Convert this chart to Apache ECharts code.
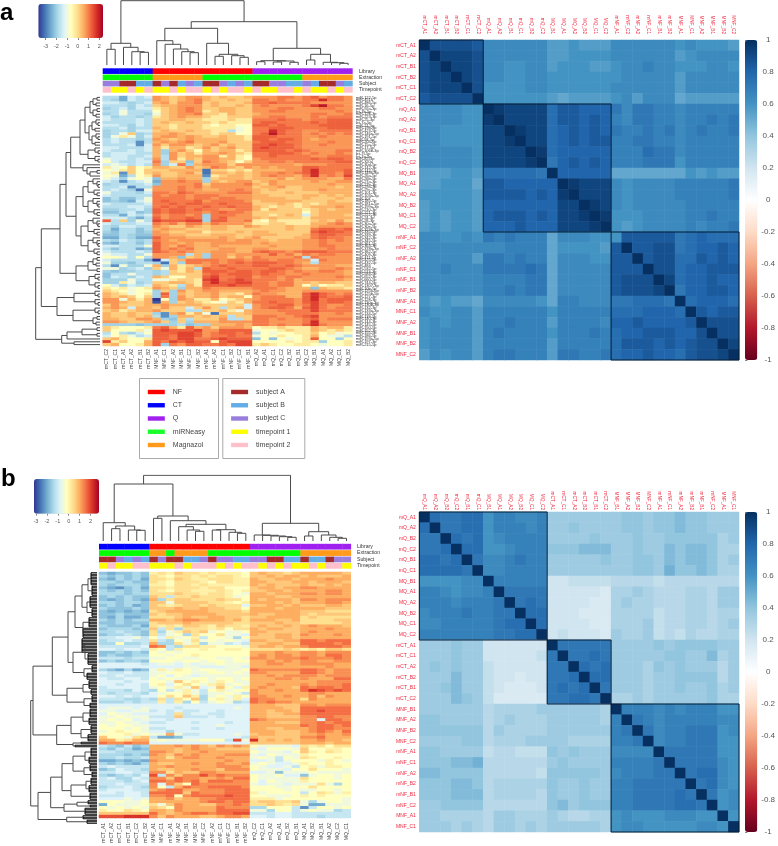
<!DOCTYPE html>
<html><head><meta charset="utf-8">
<style>html,body{margin:0;padding:0;background:#fff}#c{width:778px;height:846px;filter:blur(0.45px)}</style>
<script src="https://cdn.jsdelivr.net/npm/echarts@6/dist/echarts.min.js"></script>
</head><body><div id="c"></div>
<script>
// ---------- Data ----------
// Heat cells: each letter a..u is one step along the palette (a = lowest, u = highest of the colour key).
const heatColsA=['mCT_C2','mCT_C1','mCT_A1','mCT_A2','mCT_B1','mCT_B2','MNF_A1','MNF_C1','MNF_A2','MNF_B1','MNF_C2','MNF_B2','mNF_A1','mNF_A2','mNF_C1','mNF_B2','mNF_C2','mNF_B1','mQ_A2','mQ_A1','mQ_C1','mQ_C2','mQ_B2','mQ_B1','MQ_C2','MQ_B1','MQ_A1','MQ_A2','MQ_C1','MQ_B2'];
const heatColsB=['mCT_A1','mCT_A2','mCT_C1','mCT_B1','mCT_C2','mCT_B2','MNF_A1','MNF_C1','mNF_A1','MNF_A2','MNF_B1','MNF_B2','MNF_C2','mNF_A2','mNF_C1','mNF_C2','mNF_B1','mNF_B2','mQ_C2','mQ_C1','mQ_A2','mQ_A1','mQ_B2','mQ_B1','MQ_A1','MQ_B2','MQ_B1','MQ_A2','MQ_C2','MQ_C1'];
const mirNames=['miR-122-5p','miR-451a','miR-486-5p','miR-16-5p','miR-92a-3p','let-7b-5p','miR-126-3p','miR-223-3p','miR-25-3p','let-7a-5p','miR-21-5p','miR-19b-3p','miR-423-5p','miR-146a-5p','miR-191-5p','miR-93-5p','miR-20a-5p','miR-15a-5p','miR-17-5p','miR-106b-3p','let-7f-5p','let-7g-5p','miR-22-3p','miR-320a','miR-30d-5p','miR-142-3p','miR-142-5p','miR-148a-3p','miR-26a-5p','miR-26b-5p','miR-27a-3p','miR-27b-3p','miR-29a-3p','miR-29c-3p','miR-101-3p','miR-103a-3p','miR-107','miR-185-5p','miR-181a-5p','miR-199a-3p','miR-210-3p','miR-221-3p','miR-222-3p','miR-24-3p','miR-28-3p','miR-30a-5p','miR-30e-5p','miR-323b-3p','miR-335-5p','miR-339-3p','miR-342-3p','miR-345-5p','miR-361-5p','miR-363-3p','miR-378a-3p','miR-382-5p','miR-409-3p','miR-411-5p','miR-425-5p','miR-432-5p','miR-484','miR-532-5p','miR-574-3p','miR-584-5p','miR-652-3p','miR-660-5p','miR-744-5p','miR-1307-3p','miR-10b-5p','miR-125a-5p','miR-125b-5p','miR-127-3p','miR-128-3p','miR-130a-3p','miR-130b-3p','miR-132-3p','miR-133a-3p','miR-134-5p','miR-139-5p','miR-140-3p','miR-144-3p','miR-145-5p','miR-150-5p','miR-152-3p','miR-155-5p','miR-186-5p','miR-193a-5p','miR-197-3p','miR-215-5p'];
const heatRowsA=[
"hheihi onmnoo nmnmmn oooppo pqoppo","hgeihh onmnop nmmnmm ppopoo ppsppo","iihghi nomoop mnmmmn ppqppp pooooo","hhhgih mnnooo mnmmnm opoooo prtppo",
"ghigii lmnopo mmnnmm oooppo ooppoo","hhjhhh kmnopo lmnnmm ooppoo oooopo","ghjhhg jmnoop mmlnmm nooooo oppoop","ighhgh lmnonn mllmmm ooppoo opoppp",
"ihhhih mmnnmm lllmll pppqpp oppqqq","hhhhih mnmmnm mlmlll pqqppp pqpqqq","iihgih mmlmmm lkllkk qqpqpp ppqqqq","hhighh nmlmmm lllljk ppqqqp pppqqq",
"ghhgii mnmmnm mllhjk ppsqpp oopppp","ghjmgh nnonmm mlmmkk pqtqpp opopop","gjljgi noonon mmnmml qqqppp oopooo","hihhgh onmnon nnnmml qqpqqp onoooo",
"hihhdh nonopn nnommm pqqqpp ooopoo","hhhidi omoonm nomnmm qqrqqp oopooo","iihhhi nlnnlm omnomm qrqqqp oooooo","ihhihi ngnomk nmnnlm qqqqpq pooopp",
"hiiihh ngomnl nnonml ppqqqp opoopo","hiihhi nhomnn oolnlk ppqppp pooppp","jiihih oholnm oonnlk oppppp pqpqqp","kihhii pgmmfm ponmkm ooppop ppppqq",
"ijihih ogipgn ooomoo ooooon oooppp","ljkmkl nnmmom nponmo nonooo qqpppp","kjlmkm mmnnnn cmmlml nnnnoo qspppq","jldmkm nmmnom cnnmnm noopop qsppoq",
"kjehkl ommnnn dlmnnm nopoon psopor","jigjkj fnnonn gmnnnm nnnomn ooonnp","ihdhij eoopoo gnmnoo mnonnn nonnoo","ghhhhi foooop moooop nmonnn nnnonn",
"hhidhh ooopop nooooo mnnomm nnnnmn","hihgcj ooopoo nnoopo nmnmmm nnonnn","jhhhgi ppoqpo oooppp nmmmnm mmnnnn","ihhhhh poppop ppoooo nnmmmm nnmnmn",
"fhffhj ppppop poppoo nnnnmm nmmmnm","fgfeij pqpppq oppppo mnnnnn mmmnmm","ihhhhi ppqpqq ppqppp mmmnml mlmnnn","hhhiih pqpqpp qppqpp nmlmml mnnnon",
"gghhig qpqqpq ppoopp nlnmmm lmnmnn","ffhifg qpqqpp opqppo mmmmmm kmnnnn","hheihi poppop gpppoo mmlmnm imnnnm","iiigeh qoppqp gpqooo nmnmmm lnnnnn",
"qhmgjh rqqqrr gqqoop lkmlll lmnmom","ihhhii popnpp npooon llmmll lnnopo","hgiihh onmmon mnnmmo nmmmnm mnoooo","hehhfh nonnmm mnnmmm mmmmnm mpqqpq",
"gfhhfg onmmnn lmmmnm nnmmmm mqrqqp","ffhgff oonnmm mnnnmm nnnmmm npqqpp","eehgee qooonn nnonmn ommmmn npqppo","hgihgh ponooo ooonoo nnmnnn oopopo",
"fehhfh qoonon nooooo nonnnn oopooo","iihhhj qonpon nonnnn nnonnn ooppoo","hfhhef qopopn nnoonn oonnnn ooopoo","ihhhih qpopon nooonn pqppop qqqppp",
"jiihhj oooohn goonoo ooqopn poppoo","kkjhkh oonfmn goomon poooop hpoooo","ihhhhe aimnpp ppoppo ppoppo oipooo","jggfhh gcmgpp opopqp qqqppo nhoooo",
"hdjggj ngnlmn opqppp qqppqp oooonn","jjghig mjnlnh qppqpp ppqqpo nnoopo","gfgghh ghmlnm qqqpqq pqqpop ooppon","fhhjhh ghmmmm pqpqqq pqppoo poooon",
"fihgih nmkkmm qrppqq oppopp oooopo","gggjhh jjlmml rspqrq pppopn ooooon","ggljgh mmnnml qsqqrr ppoppn nmnnmm","kigihi nmlhnl qqqrqq ppoppn kmkllm",
"lkljkl onmgnn pooooo ppponn nfnmml","mlkjkk gmgomn oonnnn opoonn oooooo","nmljkl gqgnmn nommln poonnn qsqpop","nmnmkm gpgomn nomnnk opppnn qsqppq",
"oojnln akgonl lnklmn oppppo qspqqq","oonmmn bngmnm lkjmln ppqppo qrpqqp","mommmn nonnnn mmmmmi oppqqo prpoop","noninn mommim omhmni opqqpn qrpopp",
"mnlmnn ommmhh mmnljn oooppp prpppp","nmmnmm gdnoln jcmmmn oooopp ppoopo","nmmnmn hdgnnm nmnhmm pppoop qroooo","nnmmoo ngfmhm mmohhm ppopoo pqoppp",
"oonmmn omgmgn nnoooo ppoooo psoooo","ggggfg ggghfg gnnnon ppopoo qspooo","mlkkkl pqnlqn omooon kllmll lnmnnl","mkkklj qrqqqr ooqqqq jkklml lnmlml",
"hkhgik qqqrrq opqqpq hkjkkl lmkljk","ikljhi qqprrq oppqpp jkklkk lnkjjh","mnlkkl qqprrp pqrqqq fkfkjk lqkkgk","rlmkkn qprqrq qkqrrr kkkklk llgkkl",
"mnkkln qgpoqq ppqprr lmlkkl lkjkkl"];
const heatRowsB=[
"feffgf lmlnmm lmlllk nonnmn ooooon","gfgfgf mlkmml mlmmlk nnonoo nonnno","fegfge mmlnml lmmmll onnoon ooopoo","ggfgff mlkmmm lkmmll oonnno onooon",
"gfgggf llkmml mlllll ononnn onnono","fedfge mmlmmm lmmkkk noonoo ppoooo","gfgfgf mlkmml llmlkl nnoono oooppo","gggfgg mmmnmm lmmlkj oonooo ppoppo",
"fgfgff nmhmmn mmmljk ooonno oooooo","fefgfe ogmnnm mmnmmk onooon ppoppp","ggfggf nnjnnn nmmlkl ooonon oooppo","fgfgef nmlmnn mnmmmi nnoono nnnoon",
"gfffgf nnnonn onnmmk ooonoo ooonnn","fefefe mnoooo onnnnm oooooo nnnmmm","ffgfff nmnnoo oonnnn onnooo nmnnnn","fegeef mmmnon noonnm nnoooo mnmmmm",
"gfgfgg oonopp ooonom ooonno mmmmnn","ffgfff mnnnon nnnnmm nnnonn mmmmmn","gfffge mlmlnn mlnmml nonnon opooon","fgggfg nhmgmm mlmkmm onoonn ooopoo",
"gghggf mgjlnm njkjjk oonnnn opoooo","fgghgf mhjkgm kkmjji onnoon pooopo","hhiijh kiljkl hkkjgk nnnoon oooooo","ghhihh mhgkjm jkjkji oonnoo qqpqqq",
"ggkggh oggmjl gjjhih nnoonn qqqqpq","hhhhhi qphgmm llkkkj noonoo pqqqqp","iihiih lkhlkk lkkllk mmmmnm lmlnnm","ffgfgf kjkjkk kkkkkk ooopoo ppoppp",
"fgffgg kkjkkl kkkkkk opoppo ppoqqp","hhhghh jjkkjj kkjjkj ppoppp qpppqp","fgfggf kkkjkk jkkjkk oopopo ppoopp","iiiiih ijjiji jjkjjj ooppoo ppppoo",
"iiiiii iiiijj iiijji oooooo ooopoo","gfegef jljlkj kkjjjk qppppp qqpopp","ihhihh jjkkkj jkkjkj ppoooo qqpopp","hhihhh jkikji jjjjjj oopopp ppoppp",
"ihhiih kjkjjk kjkkjk oooppo poooqq","iiihii kkjnkl kjlkjj oooooo oopppp","iihiih klikmk jlmjkj oopooo popppq","hiiiih jkjljn ijnkil opooon qpqqpq",
"hhhgih gkhjlj hkljkk poopoo qsrqrq","hghhhg ijkklj hjjkjh pooooo oppooo","iihihi ikmknl gjkjlk ppoopo opnpoo","hhhggh gmhmkn gkljli qppooo mpoooo",
"ggghgh hlhlgk hjkjgh qpqppo oooooo","iiiiii iiiiii iiiiii ooonnn ppoppp","ijjjij iiihii iiiiji oooonn qqqqqq","jjiijj hihihh iihiii oonoon qqrqqq",
"ikjjii iihmhi ihhiii oonnoo qqqqqq","jjkjjj hhhnhh hihiii oonnnn ppqqpp","jkjkij iihiii iiiiii qpoooo ppiqqp","jjkjji hhiiih iiihii ooonnn ppqpqq",
"kjkkjj iiiiii iijiii oooooo qpqqpq","kkkjkj hhiiih iihiii oonnoo opqqpp","jklkkj iigiii iiiiii ooonnn opqpoq","kkkljk jjojhh iiiiji noonnn oopoop",
"nkkjmn heefii iiiiih onnnnn ppqooo","oolmoo jkjjjj kkkhrj snonon oopoon","qppqpp iiiiii iiiiii nnnnnn ooonoo","hgfhfg ooopop onpopo kjjjji mlmkmm",
"gfhgef ooonop oonnnn jikkkj nkkllk","hhgggg pponoo pooooo kjjjik nlkmlk","gggfgf ponpop oooppp jikjjj lkkkkk","gghggh oomopp oopooo jkjhkj mlkklk",
"eefefe pooooo ooopoo iijhjk kkjlkj","gfgfeg onnoop oopoop jkjiij lkklkk","hihhhh oopooo oopppo kjiijh kljllk","fgihhg onnoop oonppp kjjjik kmkkkj",
"hhiihh ppmonn ppoooo iijfjj jkjjjj","gfghgi rhpnpp rpqppp kjjkii fjkkjk","higgih ppnqpp oopoqq kjjjjj mkkkjk","hhhghi qqpqpq oqqqpp kikjjj lkkkkk",
"hhihhh pipnkq pppppp jijjij jjmjgk","ghhihg pkhoqp pqqqqp kkkjjk kmkkkk","hiiihh opqqoo pppqqq kkkkjk jjkkjk","iihiih qqqqnq pppqqq ljkkkk hkmljl",
"hhhiih ppqkpq qqqrqq kkjjjk lklkkk","iiijij oopnoo ppqqqq llljkk kkkkkj","kkkjjk oooooo pqqpqq mnnmmn jgjkkj","ekjjjk mjnpoo nnppqp mmnmlm jeejjj",
"kjkjkj nmkpoo ooqppp ggkkkh dhkkjk","lkkmlk oonpoo ooqqqq jjgkkh jkjjgh","nnnnnn qonopq qpqqrr hhhiih hhhhhh","rrrsss pnpooo nnoppo iihiih hhghhh"];
// Palette position of each letter, as calibrated against the colour key of each panel
const stepsA=[0,1,2,3,4,5,5.7,6.4,7.5,9,10,11.3,12.8,13.8,14.7,15.6,16.4,17.3,18.2,19,20];
const stepsB=[0,1,2,3,4,5,6,7,8,9,10,11,12,13,14,15,16,17,18,19,20];
// Annotation tracks, one code per column
const trackNames=['Library','Extraction','Subject','Timepoint'];
const tracksA=['CCCCCCNNNNNNNNNNNNQQQQQQQQQQQQ','GGGGGGOOOOOOGGGGGGGGGGGGOOOOOO','ccAABBAcABcBAAcBcBAAccBBcBAAcB','pyypypyypyppypyppypyyppypyypyp'];
const tracksB=['CCCCCCNNNNNNNNNNNNQQQQQQQQQQQQ','GGGGGGOOGOOOOGGGGGGGGGGGOOOOOO','AAcBcBAcAABBcAccBBccAABBABBAcc','ypyyppyyypypppypyppypypyypyppy'];
// Correlation matrices (lower triangle). a=0.00, b=0.04 ... z=1.00
const corrNamesA=['mCT_A1','mCT_A2','mCT_B1','mCT_B2','mCT_C1','mCT_C2','mQ_A1','mQ_A2','mQ_B1','mQ_C1','mQ_B2','mQ_C2','MQ_B1','MQ_A1','MQ_A2','MQ_B2','MQ_C1','MQ_C2','mNF_A1','mNF_C2','mNF_A2','mNF_C1','mNF_B1','mNF_B2','MNF_A1','MNF_C1','MNF_A2','MNF_B1','MNF_B2','MNF_C2'];
const corrLowerA=["z","wz","wxz","wxxz","wxxxz","vwwwwz","qqqqppz","qqqqppyz","qqppppxxz","qqppppxxyz","qqqqqpxxxxz","qqqqqpxxxxyz","oooppottttts"+"z","oopppnvvuuuuuz","pppppovvvvuvuyz","oppppouuuuuuuxxz","opoppouvvvuvuxxyz","opoppouuuvuuuxxxyz","qqppqpsrsrrrnqqqpppz","qqqqqqqqrrrrnppppovz","qqqqqossrsrrnqqqppvvz","qqrqqqssssts"+"nqqqqqvvvz","qqqqqqrrrrssnqqqqqvwwwz","qqqqqqrrsrssnqqqqqvwwwxz","popoonqqqqqpnrrqqqssttts"+"z","qppqqorrrrrrprrrrrtttuuutz","pqpqqorrsrrrorrrrquuvuuuuvz","pqqqqorsrrrrprrrsrtuuvvvuuwz","pqqqqorrrrrrorrrrrtvvvuvuvwwz","oqpqqorssrrrossrrstuuvuutvwwxz"];
const corrNamesB=['mQ_A1','mQ_A2','mQ_B2','mQ_C2','mQ_B1','mQ_C1','MQ_B1','MQ_A1','MQ_A2','MQ_B2','MQ_C1','MQ_C2','mCT_A1','mCT_C1','mCT_A2','mCT_B2','mCT_B1','mCT_C2','MNF_B1','MNF_A2','MNF_B2','MNF_C2','mNF_A1','mNF_C1','mNF_A2','mNF_B2','mNF_B1','mNF_C2','MNF_A1','MNF_C1'];
const corrLowerB=["z","tz","ssz","sstz","ttstz","ttttsz","ppppqqz","rrqpqqrz","rrrqrrrsz","qrrrsrrssz","qqrrrrrsttz","rrrrrrrssttz","jjjkjjffffffz","jjjkjjfffffgsz","jkjkjjgfffffssz","jjjljjgffeffsstz","jjkljjgfeeefststz","jjjlkjgeeeeessttsz","jjjjjjhiiiijjjjjjiz","kkjjjjhijiiijjjjjirz","kkkkkkhjiiiijjjjjjrsz","jjjjkkhiiijjjjiiiirrsz","kkjjjjghhgggkjkjjjqqqqz","kkkllmhhhhhhjkjjjjrrrrsz","llkkkkhhhhhgkkkkkjqrrrssz","kkkllkhiiiiikjjkjjrrsssssz","kkklllhiiiihkjjkjjrrssssts"+"z","jjkkkkhhhhhhkljkkkrrsssstts"+"z","jjiiiihjjiiijihhiipqpppqqqppz","jjjijihjjijijjjjjipqqpppppqqpz"];
const clustersA=[[0,5],[6,17],[18,29]];
const clustersB=[[0,11],[12,17],[18,29]];
// Dendrograms: a node is [merge height, child, child]; 0 is a single leaf; [height, count] is a tight clump of leaves.
const s2=[3,0,0],s3=[5,0,[2,0,0]],s4=[7,[3,0,0],[4,0,0]],s5=[8,[4,0,[2,0,0]],[5,0,0]],s7=[12,[7,0,[3,0,[2,0,0]]],[6,0,[3,0,0]]];
const topTreeA=[64.3,[21.7,[15.7,0,0],[17.7,0,[13.3,0,[12.7,0,0]]]],[43.3,[36.7,[24.3,0,[20.7,0,[16,0,[13.3,0,[12.3,0,0]]]]],[21.7,0,[10.7,[8.7,0,0],[9.3,0,[7.7,0,0]]]]],[16.7,[4.3,[3.3,0,0],[4,[3,0,0],[2.7,0,0]]],[10.7,[5,0,0],[2.7,0,[2.3,0,[1.7,0,0]]]]]]];
const leftTreeA=[64.3,[58.7,[40,[34,[29.3,[20,[15,[10,s4,s4],[11,s5,s5]],[12,s3,s3]],[17,0,[13,0,[10,s2,0]]]],[24,[17,s7,s7],[19,s7,s7]]],[24,[12,s4,s2],[11,s3,s3]]],[43,[26,s3,s3],[27,s3,s4]]],[38.3,[33,[18,s2,s2],0],[26,0,0]]];
const topTreeB=[65.7,[57,[18.3,0,[15,[12.3,0,0],[11,0,[10.7,0,0]]]],[25,[22.7,0,0],[20.3,0,[16.7,[14.3,0,[11,0,[9.7,0,0]]],[11.3,[11,0,0],[8.7,0,[7.7,0,0]]]]]]],[17.7,[6,0,[5.7,0,[5,0,[4.3,0,[3.7,0,0]]]]],[9.3,[5,0,0],[6,0,[3.7,0,[2.7,0,0]]]]]];
const leftTreeB=[66.3,[64,[44.7,[29,[22,[15,[9,[6,9],[5,7]],[10,[7,8],[5,6]]],[14,[8,7],[14,7]]],[24,[12,[15,10],[9,8]],[13,[5,5],[10,5]]]],[30,[14,[8,6],[6,4]],[13,[5,5],[7,4]]]],[40.3,[26,[14,[7,6],[8,5]],[16,[6,6],[9,5]]],[24,[16,2],[22,2]]]],[59,[46.3,[35,[24,[12,[6,6],[8,5]],[13,[7,5],[5,4]]],[26,[11,[6,5],[8,5]],[7,5]]],[33,[20,[9,3],[7,2]],[12,5]]],[30.3,[14,3],[10,3]]]];
// Colour keys
const heatPalette=['#313695','#4575b4','#74add1','#abd9e9','#e0f3f8','#ffffbf','#fee090','#fdae61','#f46d43','#d73027','#a50026'];
const corrPalette=['#67001f','#b2182b','#d6604d','#f4a582','#fddbc7','#ffffff','#d1e5f0','#92c5de','#4393c3','#2166ac','#053061'];
const heatTicks=[-3,-2,-1,0,1,2];
const corrTicks=[-1,-0.8,-0.6,-0.4,-0.2,0,0.2,0.4,0.6,0.8,1];
const rangeA=[-3.69,2.35], rangeB=[-3.18,2.78];
const codeColor={C:'#0000ff',N:'#ff0000',Q:'#a020f0',G:'#00ff00',O:'#ff9a1a',A:'#a52a2a',B:'#63ace5',c:'#9a7ede',y:'#ffff00',p:'#ffc0cb'};
const legendLeft=[['NF','#ff0000'],['CT','#0000ff'],['Q','#a020f0'],['miRNeasy','#19ff2a'],['Magnazol','#ff9a1a']];
const legendRight=[['subject A','#a52a2a'],['subject B','#63ace5'],['subject C','#9a7ede'],['timepoint 1','#ffff00'],['timepoint 2','#ffc0cb']];

// ---------- Building the option ----------
const grid=[],xAxis=[],yAxis=[],series=[],visualMap=[];
function addGrid(l,t,w,h,xa,ya){const i=grid.length;grid.push({left:l,top:t,width:w,height:h,containLabel:false});
 xAxis.push(Object.assign({gridIndex:i},xa));yAxis.push(Object.assign({gridIndex:i},ya));return i;}
function layout(node,segs,st){
 if(node===0){return {p:st.n++ +0.5,h:0};}
 if(node.length===2){const first=st.n+0.5;for(let k=0;k<node[1];k++){const p=st.n++ +0.5;segs.push({pts:[[0,p],[node[0],p]],dark:true});}
  const last=st.n-0.5;segs.push({pts:[[node[0],first],[node[0],last]],dark:true});return {p:(first+last)/2,h:node[0]};}
 const A=layout(node[1],segs,st),B=layout(node[2],segs,st);
 segs.push({pts:[[A.h,A.p],[node[0],A.p],[node[0],B.p],[B.h,B.p]]});
 return {p:(A.p+B.p)/2,h:node[0]};
}
function addDend(g,tree,horizontalLeaves){
 const segs=[];layout(tree,segs,{n:0});
 series.push({type:'lines',coordinateSystem:'cartesian2d',xAxisIndex:g,yAxisIndex:g,polyline:true,silent:true,animation:false,
  lineStyle:{color:'#4a4a4a',width:1,opacity:1},
  data:segs.map(s=>({coords:horizontalLeaves?s.pts:s.pts.map(q=>[q[1],q[0]]),lineStyle:s.dark?{color:'#000',width:1,opacity:1}:undefined}))});
}
function countLeaves(t){if(t===0)return 1;if(t.length===2)return t[1];return countLeaves(t[1])+countLeaves(t[2]);}
function addKeyBar(l,t,w,h,range,palette,series_i,horizontal,ticks){
 visualMap.push({type:'continuous',seriesIndex:series_i,min:range[0],max:range[1],dimension:2,orient:horizontal?'horizontal':'vertical',
  left:l,top:t,padding:0,itemWidth:horizontal?h:w,itemHeight:horizontal?w:h,calculable:false,hoverLink:false,realtime:false,showLabel:false,text:[null,null],inRange:{color:palette}});
 const base={type:'value',min:range[0],max:range[1],axisLine:{show:false},splitLine:{show:false},
   axisTick:{show:true,length:horizontal?2:2.5,lineStyle:{color:'#555',width:.7},customValues:ticks},
   axisLabel:{show:true,color:'#555',fontSize:horizontal?5.5:8,customValues:ticks,hideOverlap:false,showMinLabel:true,showMaxLabel:true,
     margin:horizontal?5:14,align:'center',formatter:v=>String(v)}};
 if(horizontal)addGrid(l,t,w,h,Object.assign({position:'bottom'},base),{type:'value',show:false,min:0,max:1});
 else addGrid(l,t,w,h,{type:'value',show:false,min:0,max:1},Object.assign({position:'right'},base));
}
function addHeat(cfg){
 const rows=cfg.rows.map(r=>r.replace(/ /g,''));
 const lo=cfg.range[0],hi=cfg.range[1],data=[];
 rows.forEach((r,y)=>{for(let x=0;x<r.length;x++)data.push([x,y,lo+cfg.steps[r.charCodeAt(x)-97]/20*(hi-lo)]);});
 const g=addGrid(cfg.l,cfg.t,cfg.w,cfg.h,
  {type:'category',data:cfg.cols,position:'bottom',axisLine:{show:false},axisTick:{show:false},splitLine:{show:false},
   axisLabel:{interval:0,rotate:90,fontSize:5,color:'#444',margin:cfg.colMargin,hideOverlap:false}},
  cfg.rowNames?{type:'category',inverse:true,position:'right',data:cfg.rowNames,axisLine:{show:false},axisTick:{show:false},splitLine:{show:false},
    axisLabel:{interval:0,fontSize:4,color:'#333',margin:3.4,hideOverlap:false}}
   :{type:'category',inverse:true,show:false,data:rows.map((_,i)=>i)});
 series.push({type:'heatmap',xAxisIndex:g,yAxisIndex:g,data:data,silent:true,progressive:0,animation:false,emphasis:{disabled:true}});
 return series.length-1;
}
function addTracks(l,t,w,h,cols,tracks,labelMargin){
 const g=addGrid(l,t,w,h,{type:'category',show:false,data:cols},
  {type:'category',inverse:true,position:'right',data:trackNames,axisLine:{show:false},axisTick:{show:false},splitLine:{show:false},
   axisLabel:{interval:0,fontSize:5.2,color:'#333',margin:labelMargin}});
 const data=[];tracks.forEach((tr,y)=>{for(let x=0;x<tr.length;x++)data.push([x,y,tr[x]]);});
 series.push({type:'custom',xAxisIndex:g,yAxisIndex:g,silent:true,animation:false,data:data,encode:{x:0,y:1},
  renderItem:(p,api)=>{const c=api.coord([api.value(0),api.value(1)]),s=api.size([1,1]);
   return {type:'rect',shape:{x:c[0]-s[0]/2,y:c[1]-s[1]/2+0.3,width:s[0]+0.4,height:s[1]-0.6},style:{fill:codeColor[data[p.dataIndex][2]]}};}});
}
function addCorr(cfg){
 const n=cfg.names.length,data=[];
 for(let i=0;i<n;i++)for(let j=0;j<=i;j++){const v=(cfg.lower[i].charCodeAt(j)-97)*0.04;data.push([j,i,v]);if(i!==j)data.push([i,j,v]);}
 const g=addGrid(cfg.l,cfg.t,cfg.w,cfg.h,
  {type:'category',data:cfg.names,position:'top',axisLine:{show:false},axisTick:{show:false},splitLine:{show:false},
   axisLabel:{interval:0,rotate:90,fontSize:4.7,color:'#f0283f',margin:cfg.topMargin,hideOverlap:false}},
  {type:'category',data:cfg.names,inverse:true,position:'left',axisLine:{show:false},axisTick:{show:false},splitLine:{show:false},
   axisLabel:{interval:0,fontSize:5,color:'#f0283f',margin:3.4,hideOverlap:false}});
 series.push({type:'heatmap',xAxisIndex:g,yAxisIndex:g,data:data,silent:true,progressive:0,animation:false,emphasis:{disabled:true}});
 const si=series.length-1;
 series.push({type:'custom',xAxisIndex:g,yAxisIndex:g,silent:true,animation:false,z:5,data:cfg.clusters,encode:{x:0,y:0},
  renderItem:(p,api)=>{const a=api.coord([api.value(0),api.value(0)]),b=api.coord([api.value(1),api.value(1)]),s=api.size([1,1]);
   return {type:'rect',shape:{x:a[0]-s[0]/2,y:a[1]-s[1]/2,width:b[0]-a[0]+s[0],height:b[1]-a[1]+s[1]},style:{fill:'none',stroke:'#071c33',lineWidth:1}};}});
 return si;
}
function panel(p){
 const hs=addHeat({rows:p.rows,cols:p.cols,rowNames:p.rowNames,range:p.range,steps:p.steps,l:p.hx,t:p.hy,w:p.hw,h:p.hh,colMargin:p.colMargin});
 addKeyBar(p.kx,p.ky,p.kw,p.kh,p.range,heatPalette,hs,true,heatTicks);
 const gt=addGrid(p.hx,p.dy,p.hw,p.dh,{type:'value',show:false,min:0,max:30},{type:'value',show:false,min:0,max:p.dh});
 addDend(gt,p.topTree,false);
 addTracks(p.hx,p.ty,p.hw,p.th,p.cols,p.tracks,p.trackMargin);
 const n=countLeaves(p.leftTree);
 const gl=addGrid(p.lx,p.hy,p.lw,p.hh,{type:'value',show:false,inverse:true,min:0,max:p.lw},{type:'value',show:false,inverse:true,min:0,max:n});
 addDend(gl,p.leftTree,true);
 const cs=addCorr({names:p.corrNames,lower:p.corrLower,clusters:p.clusters,l:419.3,t:p.cy,w:319.7,h:320,topMargin:p.topMargin});
 addKeyBar(745,p.cy,12.3,320,[-1,1],corrPalette,cs,false,corrTicks);
}
panel({rows:heatRowsA,cols:heatColsA,rowNames:mirNames,range:rangeA,steps:stepsA,hx:102.7,hy:96,hw:249.6,hh:250,colMargin:3,
 kx:38.3,ky:4,kw:64.7,kh:34,dy:0,dh:65,topTree:topTreeA,ty:68,th:25,tracks:tracksA,trackMargin:6.7,lx:30,lw:70,leftTree:leftTreeA,
 corrNames:corrNamesA,corrLower:corrLowerA,clusters:clustersA,cy:40,topMargin:6});
panel({rows:heatRowsB,cols:heatColsB,range:rangeB,steps:stepsB,hx:99,hy:572,hw:251.7,hh:252,colMargin:5,
 kx:34,ky:479,kw:65,kh:34.7,dy:475,dh:66,topTree:topTreeB,ty:543.5,th:25.5,tracks:tracksB,trackMargin:6.3,lx:27,lw:70,leftTree:leftTreeB,
 corrNames:corrNamesB,corrLower:corrLowerB,clusters:clustersB,cy:512,topMargin:2});

// Legend boxes and panel letters
const graphic=[];
function legendBox(x,w,rows){
 graphic.push({type:'rect',shape:{x:x,y:378.5,width:w,height:80},style:{fill:'none',stroke:'#aaa',lineWidth:1}});
 rows.forEach((r,i)=>{const y=392+i*13.25;
  graphic.push({type:'rect',shape:{x:x+8.3,y:y-2.2,width:17,height:4.4},style:{fill:r[1]}});
  graphic.push({type:'text',x:x+33.3,y:y,style:{text:r[0],fill:'#444',font:'7px "Liberation Sans"',textVerticalAlign:'middle'}});
 });
}
legendBox(139.5,79,legendLeft);legendBox(222.8,82,legendRight);
graphic.push({type:'text',x:0,y:1,style:{text:'a',fill:'#000',font:'bold 24px "Liberation Sans"',textVerticalAlign:'top'}});
graphic.push({type:'text',x:1,y:467,style:{text:'b',fill:'#000',font:'bold 24px "Liberation Sans"',textVerticalAlign:'top'}});

const chart=echarts.init(document.getElementById('c'),null,{renderer:'canvas'});
chart.setOption({animation:false,backgroundColor:'#fff',textStyle:{fontFamily:'"Liberation Sans",Arial,sans-serif'},
 tooltip:{show:false},grid,xAxis,yAxis,series,visualMap,graphic});
</script></body></html>
